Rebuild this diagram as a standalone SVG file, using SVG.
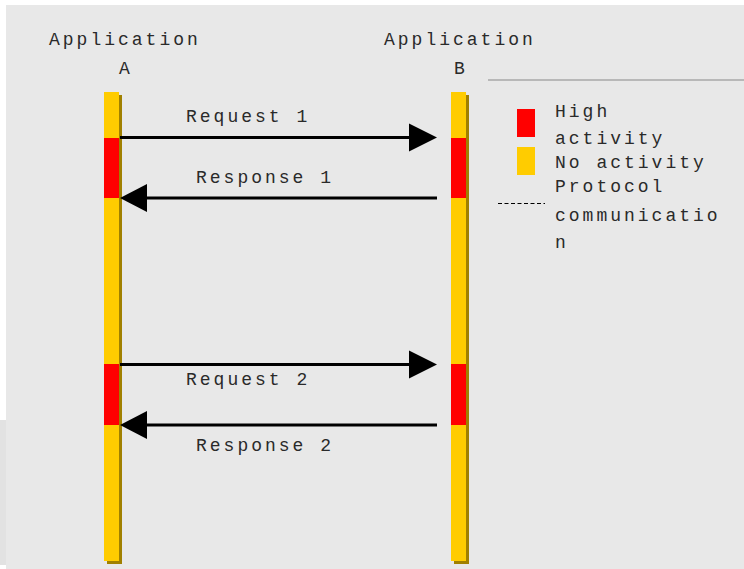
<svg xmlns="http://www.w3.org/2000/svg" width="744" height="569" viewBox="0 0 744 569">
  <style>
    .lbl { font-family: "Liberation Mono", "Courier New", monospace; font-size: 18px; letter-spacing: 3px; fill: #2a2a2a; }
    .idle { fill: #ffcc00; }
    .busy { fill: #ff0000; }
    .shadow { fill: #a08000; }
    .msg { stroke: #000000; stroke-width: 3; fill: none; }
    .head { fill: #000000; }
  </style>

  <!-- canvas -->
  <rect x="0" y="0" width="744" height="569" fill="#ffffff"/>
  <rect x="6" y="5" width="738" height="564" fill="#e8e8e8"/>
  <rect x="0" y="420" width="6" height="145" fill="#e2e2e2"/>

  <!-- lifeline A -->
  <g id="app-a">
    <text class="lbl" x="49" y="45">Application</text>
    <text class="lbl" x="119" y="74">A</text>
    <rect class="shadow" x="107" y="95" width="15" height="469"/>
    <rect class="idle" x="104" y="92" width="15" height="469"/>
    <rect class="busy" x="104" y="138" width="15" height="60"/>
    <rect class="busy" x="104" y="364" width="15" height="61"/>
  </g>

  <!-- lifeline B -->
  <g id="app-b">
    <text class="lbl" x="384" y="45">Application</text>
    <text class="lbl" x="454" y="74">B</text>
    <rect class="shadow" x="454" y="95" width="15" height="469"/>
    <rect class="idle" x="451" y="92" width="15" height="469"/>
    <rect class="busy" x="451" y="138" width="15" height="60"/>
    <rect class="busy" x="451" y="364" width="15" height="61"/>
  </g>

  <!-- legend -->
  <g id="legend">
    <line x1="488" y1="80" x2="744" y2="80" stroke="#888888" stroke-width="1.2"/>
    <rect class="busy" x="517" y="109" width="18" height="28"/>
    <rect class="idle" x="517" y="147" width="18" height="28"/>
    <line x1="498" y1="203.5" x2="545" y2="203.5" stroke="#000000" stroke-width="1" stroke-dasharray="4 2.5"/>
    <text class="lbl" x="555" y="117">High</text>
    <text class="lbl" x="555" y="144">activity</text>
    <text class="lbl" x="555" y="168">No activity</text>
    <text class="lbl" x="555" y="192">Protocol</text>
    <text class="lbl" x="555" y="221">communicatio</text>
    <text class="lbl" x="555" y="248">n</text>
  </g>

  <!-- messages -->
  <g id="connectors">
    <g id="request-1">
      <line class="msg" x1="120" y1="137.5" x2="410" y2="137.5"/>
      <polygon class="head" points="409,123.5 437,137.5 409,151.5"/>
      <text class="lbl" x="186" y="122">Request 1</text>
    </g>
    <g id="response-1">
      <line class="msg" x1="437" y1="198" x2="146" y2="198"/>
      <polygon class="head" points="147,184 120,198 147,212"/>
      <text class="lbl" x="196" y="183">Response 1</text>
    </g>
    <g id="request-2">
      <line class="msg" x1="120" y1="364.5" x2="410" y2="364.5"/>
      <polygon class="head" points="409,350.5 437,364.5 409,378.5"/>
      <text class="lbl" x="186" y="385">Request 2</text>
    </g>
    <g id="response-2">
      <line class="msg" x1="437" y1="425" x2="146" y2="425"/>
      <polygon class="head" points="147,411 120,425 147,439"/>
      <text class="lbl" x="196" y="451">Response 2</text>
    </g>
  </g>
</svg>
